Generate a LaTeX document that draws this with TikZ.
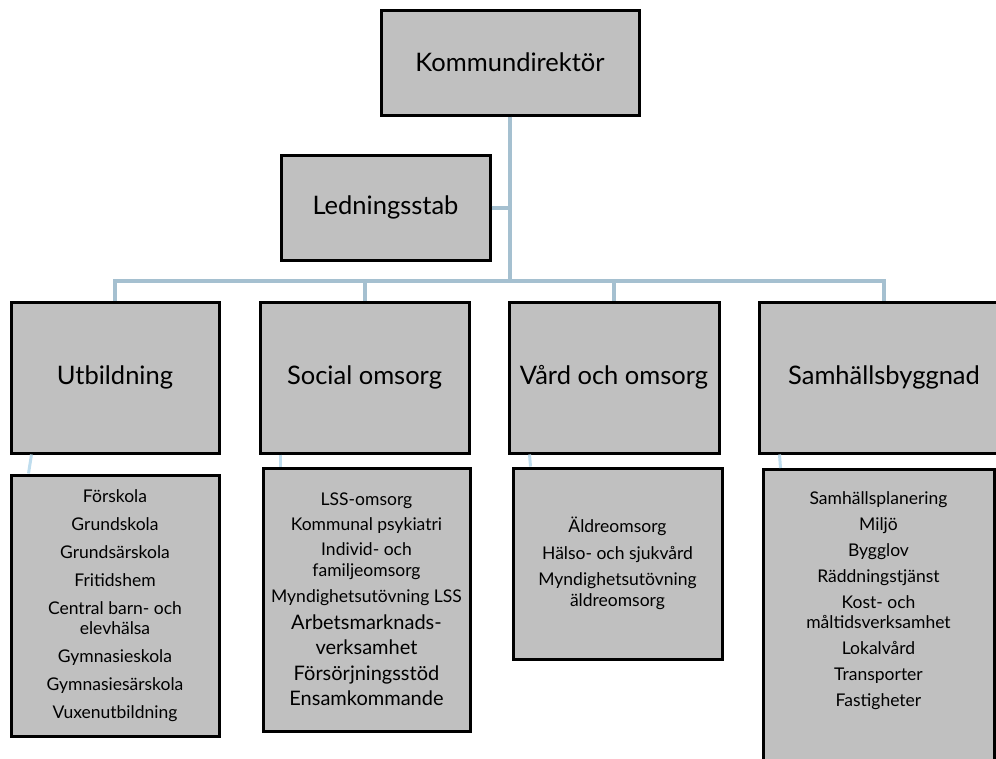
\documentclass[tikz,border=0pt]{standalone}
\usepackage{fontspec}
\setmainfont{Lato}
\usetikzlibrary{calc}

\definecolor{boxgray}{HTML}{C0C0C0}
\definecolor{linkblue}{HTML}{A5C0D0}
\definecolor{sublinkblue}{HTML}{BFDDEE}

\tikzset{
  unit/.style={draw=black, line width=3pt, fill=boxgray, inner sep=0pt, align=center},
  head/.style={unit, font=\fontsize{25.5}{29}\selectfont},
  list/.style={unit, font=\fontsize{17.5}{20.5}\selectfont},
  link/.style={draw=linkblue, line width=4pt},
  sublink/.style={draw=sublinkblue, line width=3pt}
}

\begin{document}
\begin{tikzpicture}[x=1pt,y=-1pt]
\useasboundingbox (0,0) rectangle (996,758);
\node[head, minimum width=258pt, minimum height=105pt] (kd) at (510,62.5) {Kommundirektör};
\node[head, minimum width=209pt, minimum height=105pt] (ls) at (385.5,207.5) {Ledningsstab};
\coordinate (hub) at (510,281);
\draw[link] (kd) -- (hub);
\draw[link] (ls) -- (ls -| hub);
\node[head, minimum width=208pt, minimum height=151pt] (utb) at (115,377.5) {Utbildning};
\node[head, minimum width=209pt, minimum height=151pt] (soc) at (364.5,377.5) {Social omsorg};
\node[head, minimum width=210pt, minimum height=151pt] (vard) at (614,377.5) {Vård och omsorg};
\node[head, minimum width=250pt, minimum height=151pt] (samh) at (884,377.5) {Samhällsbyggnad};
\foreach \n in {utb,soc,vard,samh}
  \draw[link] (hub) -| (\n);
\node[list, minimum width=208pt, minimum height=261pt] (utbsub) at (115,605.5)
  {Förskola\\[7.5pt] Grundskola\\[7.5pt] Grundsärskola\\[7.5pt] Fritidshem\\[7.5pt]
   Central barn- och\\ elevhälsa\\[7.5pt] Gymnasieskola\\[7.5pt] Gymnasiesärskola\\[7.5pt] Vuxenutbildning};
\node[list, minimum width=207pt, minimum height=263pt] (socsub) at (366.5,599.5)
  {LSS-omsorg\\[4.5pt] Kommunal psykiatri\\[4.5pt] Individ- och\\ familjeomsorg\\[6pt]
   Myndighetsutövning LSS\\[6pt]
   {\fontsize{20}{26}\selectfont Arbetsmarknads-}\\[5pt] {\fontsize{20}{26}\selectfont verksamhet}\\[5pt]
   {\fontsize{20}{26}\selectfont Försörjningsstöd}\\[5pt] {\fontsize{20}{26}\selectfont Ensamkommande}};
\node[list, minimum width=209pt, minimum height=191pt] (vardsub) at (617.5,563.5)
  {Äldreomsorg\\[6pt] Hälso- och sjukvård\\[6pt] Myndighetsutövning\\ äldreomsorg};
\node[list, minimum width=231pt, minimum height=330pt, anchor=north] (samhsub) at (878.5,468)
  {\\[-2pt]Samhällsplanering\\[5.5pt] Miljö\\[5.5pt] Bygglov\\[5.5pt] Räddningstjänst\\[5.5pt]
   Kost- och\\ måltidsverksamhet\\[5.5pt] Lokalvård\\[5.5pt] Transporter\\[5.5pt] Fastigheter\\[56pt]};
\foreach \n in {utb,soc,vard,samh}
  \draw[sublink] ([xshift=22pt]\n.south west) -- ([xshift=19pt]\n sub.north west);
\end{tikzpicture}
\end{document}
